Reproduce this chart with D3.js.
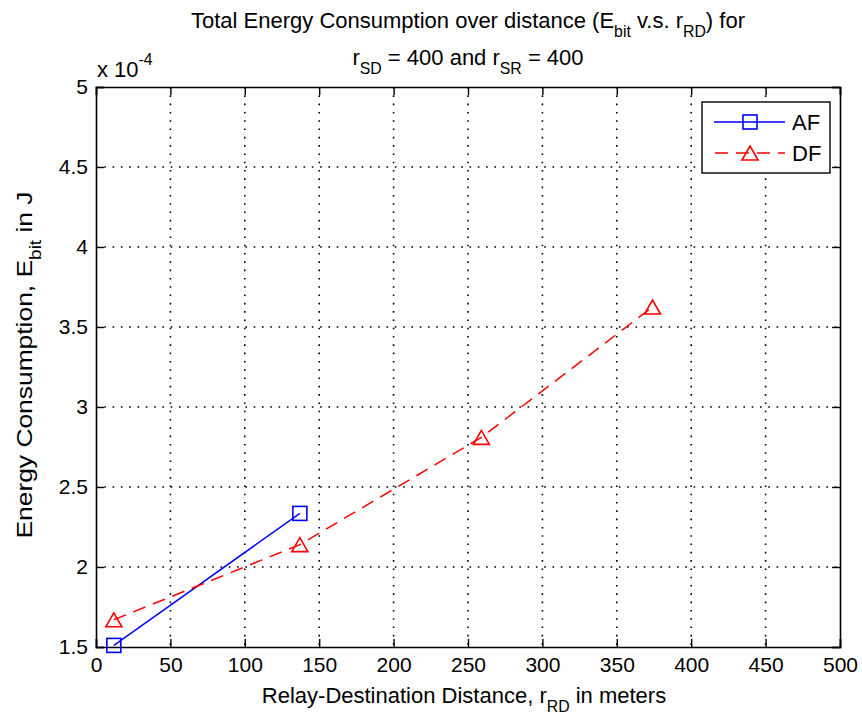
<!DOCTYPE html>
<html>
<head>
<meta charset="utf-8">
<script src="https://cdn.jsdelivr.net/npm/d3@7"></script>
<style>
  html, body { margin: 0; padding: 0; background: #fff; }
  svg text { font-family: "Liberation Sans", Arial, sans-serif; fill: #000; }
</style>
</head>
<body>
<svg id="chart" width="862" height="719"></svg>
<script>
// Relay-destination distances (m) and energy per bit (x 1e-4 J)
const afDistance = [12, 137];
const afEnergy = [1.51, 2.335];
const dfDistance = [12, 137, 259, 374];
const dfEnergy = [1.67, 2.14, 2.81, 3.625];
const xTicks = [0, 50, 100, 150, 200, 250, 300, 350, 400, 450, 500];
const yTicks = [1.5, 2, 2.5, 3, 3.5, 4, 4.5, 5];
const yTickLabels = ["1.5", "2", "2.5", "3", "3.5", "4", "4.5", "5"];
const seriesNames = ["AF", "DF"];

const svg = d3.select("#chart");
const plotL = 96, plotR = 840, plotT = 87, plotB = 647;
const FS = 22;     // label font size
const TFS = 21;    // tick label font size

const x = d3.scaleLinear().domain([0, 500]).range([plotL, plotR]);
const y = d3.scaleLinear().domain([1.5, 5]).range([plotB, plotT]);

// dotted grid
const grid = svg.append("g");
grid.selectAll(".gx").data(xTicks.slice(1, -1)).join("line")
  .attr("x1", d => x(d)).attr("x2", d => x(d))
  .attr("y1", plotT).attr("y2", plotB)
  .attr("stroke", "#000").attr("stroke-width", 1.6)
  .attr("stroke-dasharray", "1.6,6.7");
grid.selectAll(".gy").data(yTicks.slice(1, -1)).join("line")
  .attr("x1", plotL).attr("x2", plotR)
  .attr("y1", d => y(d)).attr("y2", d => y(d))
  .attr("stroke", "#000").attr("stroke-width", 1.6)
  .attr("stroke-dasharray", "1.6,6.7");

// axes with inward ticks on all four sides
const tickLen = 8;
const axB = svg.append("g").attr("transform", `translate(0,${plotB})`)
  .call(d3.axisBottom(x).tickValues(xTicks).tickSize(-tickLen).tickPadding(10).tickFormat(d3.format("d")));
const axT = svg.append("g").attr("transform", `translate(0,${plotT})`)
  .call(d3.axisTop(x).tickValues(xTicks).tickSize(-tickLen).tickFormat(""));
const axL = svg.append("g").attr("transform", `translate(${plotL},0)`)
  .call(d3.axisLeft(y).tickValues(yTicks).tickSize(-tickLen).tickPadding(8)
    .tickFormat((d, i) => yTickLabels[i]));
const axR = svg.append("g").attr("transform", `translate(${plotR},0)`)
  .call(d3.axisRight(y).tickValues(yTicks).tickSize(-tickLen).tickFormat(""));
[axB, axT, axL, axR].forEach(g => {
  g.select(".domain").attr("stroke", "#000").attr("stroke-width", 1.6);
  g.selectAll(".tick line").attr("stroke", "#000").attr("stroke-width", 1.4);
  g.selectAll(".tick text").attr("font-size", TFS).attr("font-family", null).attr("fill", "#000");
});
axB.selectAll(".tick text").attr("dy", "0.71em");

// data lines
const lineGen = d3.line().x(d => x(d[0])).y(d => y(d[1]));
const afPts = afDistance.map((d, i) => [d, afEnergy[i]]);
const dfPts = dfDistance.map((d, i) => [d, dfEnergy[i]]);

svg.append("path").datum(afPts).attr("d", lineGen)
  .attr("fill", "none").attr("stroke", "#0000ff").attr("stroke-width", 1.5);
svg.append("path").datum(dfPts).attr("d", lineGen)
  .attr("fill", "none").attr("stroke", "#ff0000").attr("stroke-width", 1.5)
  .attr("stroke-dasharray", "13,8");

const sq = 14;
function square(g, cx, cy) {
  g.append("rect").attr("x", cx - sq / 2).attr("y", cy - sq / 2)
    .attr("width", sq).attr("height", sq)
    .attr("fill", "none").attr("stroke", "#0000ff").attr("stroke-width", 1.6);
}
function triangle(g, cx, cy) {
  const w = 16, h = 14;
  g.append("path")
    .attr("d", `M${cx},${cy - h / 2}L${cx + w / 2},${cy + h / 2}L${cx - w / 2},${cy + h / 2}Z`)
    .attr("fill", "none").attr("stroke", "#ff0000").attr("stroke-width", 1.6);
}
const marks = svg.append("g");
afPts.forEach(p => square(marks, x(p[0]), y(p[1])));
dfPts.forEach(p => triangle(marks, x(p[0]), y(p[1])));

// text helper: main text followed by sub/superscripts
function richText(parent, parts, attrs) {
  const t = parent.append("text").attr("font-size", FS);
  Object.entries(attrs).forEach(([k, v]) => t.attr(k, v));
  parts.forEach(p => {
    const s = t.append("tspan").text(p.t);
    if (p.sub) s.attr("font-size", FS * 0.72).attr("dy", 9);
    if (p.sup) s.attr("font-size", FS * 0.72).attr("dy", -12);
    if (p.back) s.attr("dy", p.back);
  });
  return t;
}

const cx = (plotL + plotR) / 2;
richText(svg, [
  { t: "Total Energy Consumption over distance (E" },
  { t: "bit", sub: true },
  { t: " v.s. r", back: -9 },
  { t: "RD", sub: true },
  { t: ") for", back: -9 }
], { x: cx, y: 28, "text-anchor": "middle" });

richText(svg, [
  { t: "r" },
  { t: "SD", sub: true },
  { t: " = 400 and r", back: -9 },
  { t: "SR", sub: true },
  { t: " = 400", back: -9 }
], { x: cx, y: 65, "text-anchor": "middle" });

richText(svg, [
  { t: "Relay-Destination Distance, r" },
  { t: "RD", sub: true },
  { t: " in meters", back: -9 }
], { x: cx - 4, y: 703, "text-anchor": "middle" });

// rotated label, stretched along its reading direction
richText(svg, [
  { t: "Energy Consumption, E" },
  { t: "bit", sub: true },
  { t: " in J", back: -9 }
], { transform: `translate(32,${(plotT + plotB) / 2 - 2}) rotate(-90) scale(1.2,1)`, "text-anchor": "middle" });

richText(svg, [
  { t: "x 10" },
  { t: "-4", sup: true }
], { x: 97, y: 77 });

// legend
const lg = svg.append("g");
lg.append("rect").attr("x", 702).attr("y", 102).attr("width", 128).attr("height", 71)
  .attr("fill", "#fff").attr("stroke", "#000").attr("stroke-width", 1.4);
const legY = [122, 153];
lg.append("line").attr("x1", 714).attr("x2", 785).attr("y1", legY[0]).attr("y2", legY[0])
  .attr("stroke", "#0000ff").attr("stroke-width", 1.5);
square(lg, 750, legY[0]);
lg.append("line").attr("x1", 714).attr("x2", 785).attr("y1", legY[1]).attr("y2", legY[1])
  .attr("stroke", "#ff0000").attr("stroke-width", 1.5).attr("stroke-dasharray", "13,8")
  .attr("stroke-dashoffset", -1);
triangle(lg, 750, legY[1]);
seriesNames.forEach((n, i) => {
  lg.append("text").attr("x", 792).attr("y", legY[i] + 8).attr("font-size", FS).text(n);
});
</script>
</body>
</html>
